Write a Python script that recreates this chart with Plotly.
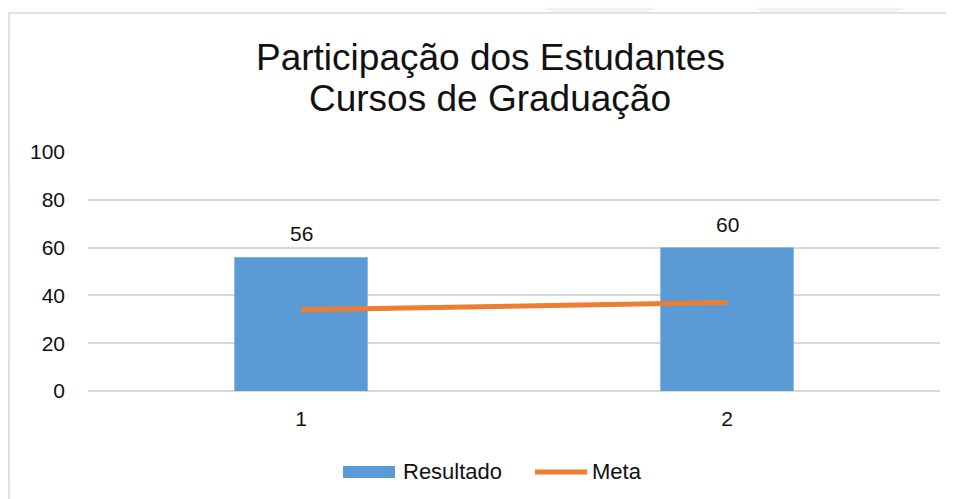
import plotly.graph_objects as go

# values
categorias = ["1", "2"]
resultado = [56, 60]
meta = [34, 37]
y_ticks = [0, 20, 40, 60, 80, 100]

AZUL = "#5B9BD5"
LARANJA = "#ED7D31"
GRADE = "#D9D9D9"
TEXTO = "#111111"
FONTE = "Liberation Sans, Arial, sans-serif"

# plot area in page pixels (the page has an 8px body margin)
PX0, PX1, PY0, PY1 = 88, 940, 152, 391


def px(x):
    return (x - PX0) / (PX1 - PX0)


def py(y):
    return (PY1 - y) / (PY1 - PY0)


fig = go.Figure()

fig.add_trace(go.Bar(
    x=categorias, y=resultado, name="Resultado",
    marker=dict(color=AZUL, line=dict(width=0)),
    showlegend=False, hoverinfo="x+y",
))
fig.add_trace(go.Scatter(
    x=categorias, y=meta, name="Meta", mode="lines",
    line=dict(color=LARANJA, width=5),
    showlegend=False,
))

shapes = []
# faint watermark behind the chart box
for cx, cy, r in [(-70, 110, 105), (-60, 420, 90), (830, -150, 175), (600, -120, 140)]:
    shapes.append(dict(type="circle", xref="paper", yref="paper",
                       x0=px(cx - r), x1=px(cx + r), y0=py(cy + r), y1=py(cy - r),
                       fillcolor="rgba(91,155,213,0.10)", line=dict(width=0), layer="below"))
# chart box
shapes.append(dict(type="rect", xref="paper", yref="paper",
                   x0=px(9), x1=px(975), y0=py(520), y1=py(13),
                   fillcolor="white", line=dict(color=GRADE, width=1.5), layer="below"))
# legend symbols
shapes.append(dict(type="rect", xref="paper", yref="paper",
                   x0=px(343), x1=px(395), y0=py(478), y1=py(466),
                   fillcolor=AZUL, line=dict(width=0)))
shapes.append(dict(type="line", xref="paper", yref="paper",
                   x0=px(535), x1=px(587), y0=py(472), y1=py(472),
                   line=dict(color=LARANJA, width=5)))

annotations = [
    dict(text="Participação dos Estudantes", x=px(490), y=py(57), xref="paper", yref="paper",
         xanchor="center", yanchor="middle", showarrow=False,
         font=dict(size=37, color=TEXTO, family=FONTE)),
    dict(text="Cursos de Graduação", x=px(490), y=py(98), xref="paper", yref="paper",
         xanchor="center", yanchor="middle", showarrow=False,
         font=dict(size=37, color=TEXTO, family=FONTE)),
    dict(text="Resultado", x=px(401), y=py(471), xref="paper", yref="paper",
         xanchor="left", yanchor="middle", showarrow=False,
         font=dict(size=22, color=TEXTO, family=FONTE)),
    dict(text="Meta", x=px(590), y=py(471), xref="paper", yref="paper",
         xanchor="left", yanchor="middle", showarrow=False,
         font=dict(size=22, color=TEXTO, family=FONTE)),
]
# data labels above the bars (category index on the x axis)
for i, val in enumerate(resultado):
    annotations.append(dict(text=str(val), x=i, y=val, xref="x", yref="y",
                            xanchor="center", yanchor="bottom", yshift=10, showarrow=False,
                            font=dict(size=21, color=TEXTO, family=FONTE)))

fig.update_layout(
    width=946, height=491,
    margin=dict(l=PX0 - 8, r=14, t=PY0 - 8, b=108, pad=0),
    paper_bgcolor="white", plot_bgcolor="white",
    bargap=0.687,
    font=dict(family=FONTE, size=21, color=TEXTO),
    xaxis=dict(type="category", range=[-0.5, len(categorias) - 0.5],
               showgrid=False, showline=False, zeroline=False,
               ticks="", tickfont=dict(size=21), ticklabelstandoff=13),
    yaxis=dict(range=[0, 100], tickvals=y_ticks, showgrid=True, gridcolor=GRADE,
               gridwidth=1.5, zeroline=True, zerolinecolor=GRADE, zerolinewidth=1.5,
               showline=False, ticks="", tickfont=dict(size=21), ticklabelstandoff=22),
    shapes=shapes,
    annotations=annotations,
    showlegend=False,
)

fig.write_html("out.html")
